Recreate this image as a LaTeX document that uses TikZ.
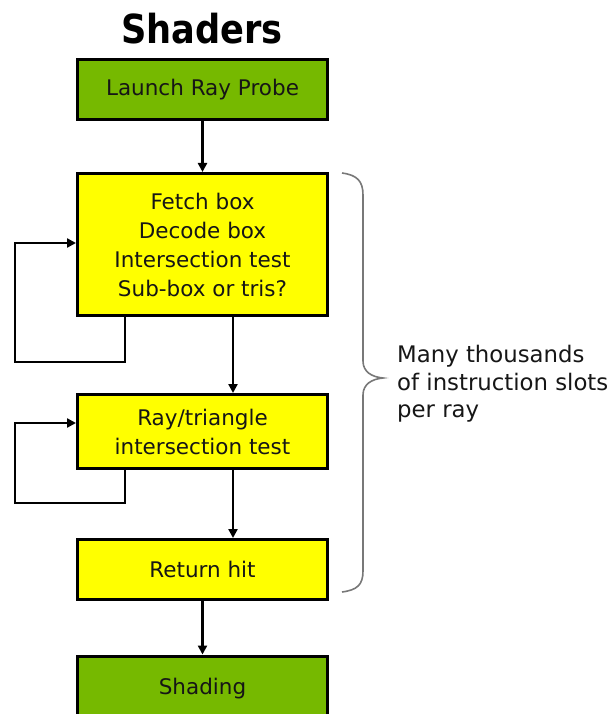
\documentclass[tikz,border=0pt]{standalone}
\usepackage{fontspec}
\setmainfont{DejaVu Sans}
\usetikzlibrary{arrows.meta,calc}
\definecolor{nvgreen}{RGB}{118,185,0}
\definecolor{ryellow}{RGB}{255,255,0}
\definecolor{bracegray}{RGB}{120,120,120}
\definecolor{boxtext}{RGB}{22,22,22}
\tikzset{
  flowbox/.style={draw=black, line width=3pt, minimum width=250pt, inner sep=0pt,
    align=center, text=boxtext, font=\fontsize{21.5}{29}\selectfont},
  greenbox/.style={flowbox, fill=nvgreen},
  yellowbox/.style={flowbox, fill=ryellow},
  arr/.style={line width=2.6pt, -{Triangle[length=9pt,width=9pt]}},
  bracepath/.style={draw=bracegray, line width=1.6pt},
}
\begin{document}
\begin{tikzpicture}[x=1pt,y=-1pt]
\useasboundingbox (0,0) rectangle (614,714);
\node[font=\bfseries\fontsize{40}{40}\selectfont, inner sep=0pt] (title) at (202,29) {\scalebox{0.88}[1]{Shaders}};
\node[greenbox, minimum height=60pt] (b1) at (202.5,89.5) {Launch Ray Probe};
\node[yellowbox, minimum height=142pt] (b2) at (202.5,244.5) {Fetch box\\Decode box\\Intersection test\\Sub-box or tris?};
\node[yellowbox, minimum height=74pt] (b3) at (202.5,431.5) {Ray/triangle\\intersection test};
\node[yellowbox, minimum height=60pt] (b4) at (202.5,569.5) {Return hit};
\node[greenbox, minimum height=66pt] (b5) at (202.5,689) {\raisebox{4pt}{Shading}};
% connectors
\draw[arr] (b1) -- (b2);
\draw[arr] (b2.south -| 233,0) -- (b3.north -| 233,0);
\draw[arr] (b3.south -| 233,0) -- (b4.north -| 233,0);
\draw[arr] (b4) -- (b5);
% loops
\coordinate (l1) at (15,243);
\draw[arr] (b2.south -| 125,0) |- (15,362) -- (l1) -- (b2.west |- l1);
\coordinate (l2) at (15,423);
\draw[arr] (b3.south -| 125,0) |- (15,503) -- (l2) -- (b3.west |- l2);
% brace
\draw[bracepath] (342,173) .. controls (357,175) and (363,181) .. (363,195)
  -- (363,361) .. controls (363,372) and (372,377) .. (383,378)
  .. controls (372,379) and (363,384) .. (363,395)
  -- (363,571) .. controls (363,585) and (357,590) .. (342,592);
\node[anchor=west, align=left, inner sep=0pt, text=boxtext,
  font=\fontsize{22.8}{27.5}\selectfont] (note) at (397,384)
  {Many thousands\\of instruction slots\\per ray};
\end{tikzpicture}
\end{document}
